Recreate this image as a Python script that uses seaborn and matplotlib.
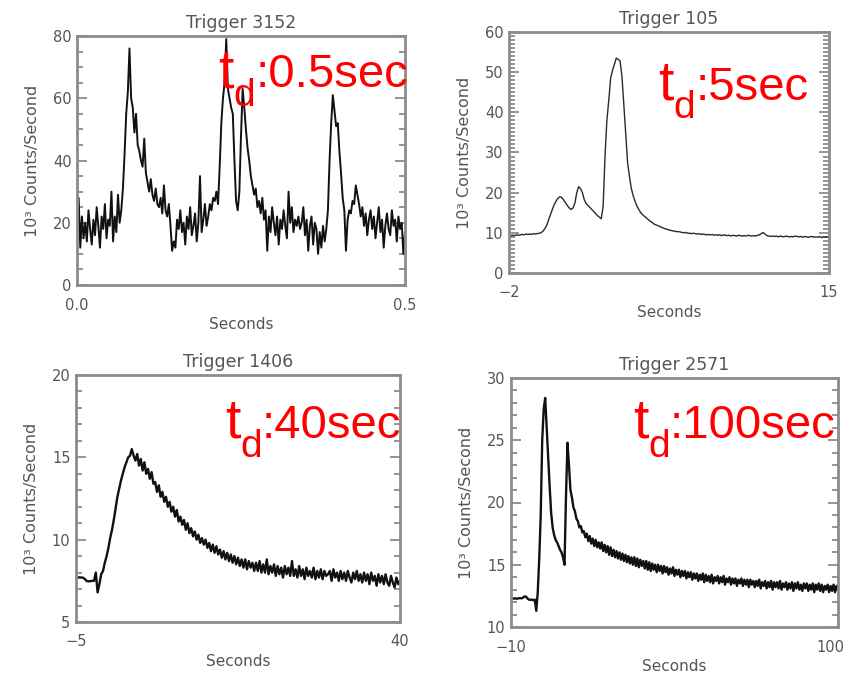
import numpy as np
import pandas as pd
import matplotlib
matplotlib.use("Agg")
import matplotlib.pyplot as plt
import matplotlib.transforms as mtransforms
import seaborn as sns
from matplotlib.ticker import MultipleLocator

# ---------------- data ----------------
titles = ["Trigger 3152", "Trigger 105", "Trigger 1406", "Trigger 2571"]
durations = ["0.5sec", "5sec", "40sec", "100sec"]
x_ranges = [(0.0, 0.5), (-2.0, 15.0), (-5.0, 40.0), (-10.0, 100.0)]
x_ticklabels = [["0.0", "0.5"], ["\u22122", "15"], ["\u22125", "40"], ["\u221210", "100"]]
y_ranges = [(0, 80), (0, 60), (5, 20), (10, 30)]
y_major = [20, 10, 5, 5]
y_minor = [5, 1, 1, 1]

# Trigger 3152: 0 .. 0.5 s, 201 samples
rate_3152 = [
    17, 28, 12, 22, 15, 20, 14, 24, 18, 13,
    21, 16, 25, 19, 12, 22, 18, 26, 15, 21,
    19, 30, 14, 22, 17, 29, 20,
    24, 31, 42, 55, 62, 76, 60, 57, 49, 55, 45, 43, 40,
    38, 47, 36, 33, 30, 34, 29, 27, 31, 26,
    25, 28, 23, 32, 24, 22, 26, 19, 11, 14,
    12, 21, 18, 24, 17, 20, 13, 22, 18, 25,
    16, 19, 23, 14, 20, 35, 17, 21, 26, 19,
    22, 26, 24, 28, 27, 30, 26, 38, 52, 60,
    65, 79, 63, 60, 57, 55, 40, 27, 24, 30,
    48, 63, 57, 50, 44, 40, 35, 32, 29, 31,
    25, 27, 23, 28, 21, 24, 11, 22, 17, 25,
    20, 16, 22, 13, 21, 18, 24, 19, 15, 30,
    20, 25, 17, 21, 19, 22, 18, 20, 25, 16,
    21, 11, 19, 22, 13, 20, 18, 10, 17, 12,
    19, 14, 18, 24, 40, 52, 61, 56, 51, 52,
    43, 36, 28, 24, 11, 21, 24, 23, 27, 26,
    32, 29, 26, 22, 25, 19, 23, 16, 21, 24,
    18, 22, 15, 20, 25, 17, 21, 12, 19, 23,
    18, 16, 24, 19, 21, 14, 22, 18, 20, 10, 17,
]

# Trigger 105: -2 .. 15 s, 171 samples
rate_105 = [
    9.2, 9.3, 9.4, 9.3, 9.5, 9.4, 9.5, 9.6, 9.5, 9.7,
    9.6, 9.7, 9.6, 9.8, 9.7, 9.8, 9.9, 10.0, 10.4, 11.0,
    11.8, 13.2, 14.5, 15.8, 17.0, 17.9, 18.6, 19.0, 18.8, 18.2,
    17.5, 16.8, 16.2, 15.8, 16.2, 17.4, 20.0, 21.5, 21.0, 20.0,
    18.2, 17.3, 16.8, 16.3, 15.8, 15.3, 14.8, 14.3, 13.9, 13.5,
    16.5, 29.0, 38.0, 43.0, 48.5, 50.5, 52.0, 53.5, 53.2, 52.8,
    49.0, 42.0, 34.8, 27.5, 24.0, 21.0, 19.2, 17.8, 16.6, 15.8,
    15.0, 14.5, 14.1, 13.7, 13.3, 12.9, 12.6, 12.2, 12.0, 11.8,
    11.6, 11.4, 11.2, 11.0, 10.9, 10.7, 10.6, 10.5, 10.4, 10.3,
    10.3, 10.2, 10.1, 10.0, 10.1, 9.9, 9.9, 9.8, 9.9, 9.8,
    9.7, 9.8, 9.6, 9.7, 9.6, 9.5, 9.6, 9.5, 9.6, 9.4,
    9.5, 9.4, 9.5, 9.3, 9.5, 9.4, 9.3, 9.4, 9.2, 9.4,
    9.3, 9.2, 9.4, 9.3, 9.2, 9.3, 9.2, 9.4, 9.3, 9.2,
    9.3, 9.2, 9.4, 9.5, 9.8, 10.1, 9.7, 9.3, 9.2, 9.1,
    9.2, 9.1, 9.2, 9.0, 9.2, 9.1, 9.0, 9.2, 9.1, 9.0,
    9.1, 9.0, 9.2, 9.1, 9.0, 9.1, 8.9, 9.1, 9.0, 8.9,
    9.0, 9.1, 8.9, 9.0, 8.9, 9.1, 8.8, 9.0, 8.9, 9.0, 8.9,
]

# Trigger 1406: -5 .. 40 s, 181 samples
rate_1406 = [
    7.7, 7.7, 7.71, 7.7, 7.69, 7.6, 7.48, 7.47, 7.48, 7.5,
    7.5, 8.0, 6.8, 7.3, 7.9, 8.1, 8.6, 9.0, 9.5, 10.1,
    10.6, 11.2, 11.9, 12.6, 13.1, 13.6, 14.0, 14.4, 14.7, 15.0,
    15.1, 15.5, 15.1, 14.8, 15.2, 14.5, 14.9, 14.2, 14.7, 14.0,
    14.3, 13.7, 14.1, 13.4, 13.5, 12.9, 13.3, 12.6, 12.9, 12.3,
    12.6, 12.0, 12.3, 11.7, 12.0, 11.4, 11.8, 11.1, 11.4, 10.9,
    11.2, 10.6, 11.0, 10.4, 10.7, 10.2, 10.5, 10.0, 10.3, 9.8,
    10.1, 9.7, 10.0, 9.5, 9.8, 9.3, 9.7, 9.2, 9.6, 9.1,
    9.4, 8.9, 9.3, 8.8, 9.2, 8.7, 9.1, 8.6, 9.0, 8.5,
    8.9, 8.4, 8.8, 8.3, 8.8, 8.2, 8.7, 8.3, 8.6, 8.1,
    8.6, 8.1, 8.7, 8.0, 8.5, 8.0, 8.8, 7.9, 8.4, 8.0,
    8.5, 7.8, 8.4, 7.9, 8.3, 7.7, 8.4, 7.9, 8.3, 7.8,
    8.7, 7.8, 8.2, 7.7, 8.4, 7.8, 8.2, 7.6, 8.3, 7.8,
    8.1, 7.7, 8.3, 7.6, 8.1, 7.7, 8.2, 7.6, 8.1, 7.8,
    7.9, 8.1, 7.5, 8.2, 7.7, 8.0, 7.5, 8.1, 7.6, 8.0,
    7.5, 8.1, 7.7, 7.4, 8.0, 7.6, 8.1, 7.5, 7.9, 7.4,
    8.0, 7.5, 7.9, 7.3, 8.0, 7.5, 7.8, 7.2, 7.9, 7.4,
    7.8, 7.3, 7.9, 7.4, 7.2, 7.8, 7.4, 7.1, 7.7, 7.3, 7.5,
]

# Trigger 2571: -10 .. 100 s, 221 samples
rate_2571 = [
    12.25, 12.3, 12.28, 12.3, 12.27, 12.3, 12.32, 12.3, 12.35, 12.45,
    12.45, 12.3, 12.2, 12.18, 12.2, 12.15, 12.2, 11.3, 12.8, 15.5,
    19.0, 25.0, 27.5, 28.4, 26.0, 23.5, 21.3, 19.2, 18.0, 17.4,
    17.0, 16.8, 16.5, 16.2, 16.0, 15.6, 15.0, 20.5, 24.8, 23.0,
    21.0, 20.4, 19.6, 19.3, 18.7, 18.5, 18.0, 18.1, 17.6, 17.7,
    17.2, 17.5, 16.9, 17.3, 16.7, 17.1, 16.5, 17.0, 16.4, 16.8,
    16.3, 16.8, 16.1, 16.6, 16.0, 16.5, 15.8, 16.4, 15.7, 16.2,
    15.6, 16.1, 15.5, 16.0, 15.4, 15.9, 15.3, 15.8, 15.2, 15.7,
    15.1, 15.6, 15.0, 15.6, 14.9, 15.5, 14.8, 15.4, 14.9, 15.3,
    14.7, 15.3, 14.6, 15.2, 14.5, 15.1, 14.6, 15.0, 14.4, 15.0,
    14.5, 14.9, 14.3, 14.9, 14.4, 14.8, 14.2, 14.7, 14.3, 14.8,
    14.1, 14.6, 14.2, 14.6, 14.0, 14.5, 14.1, 14.5, 13.9, 14.4,
    14.0, 14.4, 13.8, 14.3, 13.9, 14.3, 13.7, 14.2, 13.8, 14.3,
    13.6, 14.2, 13.7, 14.1, 13.6, 14.2, 13.5, 14.0, 13.7, 14.1,
    13.5, 14.0, 13.6, 14.1, 13.4, 13.9, 13.6, 14.0, 13.4, 13.9,
    13.5, 13.9, 13.3, 13.8, 13.5, 13.9, 13.3, 13.8, 13.4, 13.8,
    13.2, 13.8, 13.4, 13.7, 13.2, 13.7, 13.3, 13.8, 13.1, 13.6,
    13.3, 13.7, 13.1, 13.6, 13.2, 13.7, 13.0, 13.6, 13.2, 13.6,
    13.1, 13.7, 13.0, 13.5, 13.2, 13.6, 13.0, 13.5, 13.1, 13.6,
    12.9, 13.5, 13.1, 13.6, 13.0, 13.4, 12.9, 13.5, 13.1, 13.5,
    12.9, 13.4, 13.0, 13.5, 12.8, 13.4, 13.0, 13.5, 12.9, 13.4,
    12.8, 13.3, 13.0, 13.4, 12.8, 13.3, 12.9, 13.4, 12.8, 13.3, 13.0,
]

rates = [rate_3152, rate_105, rate_1406, rate_2571]

# ---------------- styling / layout ----------------
sns.set_theme(style="white")
plt.rcParams["font.family"] = ["DejaVu Sans"]

W, H = 850, 675
fig = plt.figure(figsize=(W / 100, H / 100), dpi=100)
fig.patch.set_facecolor("white")

# axes boxes in pixels: left, top, right, bottom
boxes = [(77, 36, 405, 285), (509, 32, 829, 273),
         (76, 375, 400, 622), (511, 378, 838, 627)]
line_colors = ["#111111", "#2a2a2a", "#111111", "#111111"]
line_widths = [1.4, 1.0, 1.7, 1.7]
txt_col = "#555555"
box_col = "#8c8c8c"

for k in range(4):
    l, t, r, b = boxes[k]
    ax = fig.add_axes([l / W, 1 - b / H, (r - l) / W, (b - t) / H])
    x0, x1 = x_ranges[k]
    n = len(rates[k])
    df = pd.DataFrame({"Seconds": np.linspace(x0, x1, n), "Rate": rates[k]})
    sns.lineplot(data=df, x="Seconds", y="Rate", ax=ax, color=line_colors[k],
                 linewidth=line_widths[k], estimator=None)
    ax.set_xlim(x0, x1)
    ax.set_ylim(*y_ranges[k])
    ax.set_xticks([x0, x1])
    ax.set_xticklabels(x_ticklabels[k])
    ax.yaxis.set_major_locator(MultipleLocator(y_major[k]))
    ax.yaxis.set_minor_locator(MultipleLocator(y_minor[k]))
    ax.tick_params(axis="x", length=0, pad=9, labelsize=10.5, labelcolor=txt_col)
    ax.tick_params(axis="y", which="both", direction="in", left=True, right=True,
                   color="#777777", width=1.1, labelsize=10.5, labelcolor=txt_col, pad=4)
    ax.tick_params(axis="y", which="major", length=7)
    ax.tick_params(axis="y", which="minor", length=4)
    for s in ax.spines.values():
        s.set_color(box_col)
        s.set_linewidth(2)
        s.set_visible(True)
    ax.set_xlabel("Seconds", fontsize=11, color=txt_col, labelpad=3)
    ax.set_ylabel("10\u00b3 Counts/Second", fontsize=11.5, color=txt_col, labelpad=9)
    ax.set_title(titles[k], fontsize=12.5, color=txt_col, pad=6)
    if k == 3:
        # keep the right-hand "100" inside the figure edge
        lab = ax.get_xticklabels()[-1]
        lab.set_transform(lab.get_transform() +
                          mtransforms.ScaledTranslation(-0.08, 0, fig.dpi_scale_trans))

# ---------------- red duration labels ----------------
red_pos = [(218, 87, 106), (658, 100, 118), (225, 438, 457), (633, 438, 457)]
renderer = fig.canvas.get_renderer()
red_font = "Liberation Sans"
for k in range(4):
    x, base, sub = red_pos[k]
    t1 = fig.text(x / W, 1 - base / H, "t", fontsize=40, color="#ff0000",
                  family=red_font, va="baseline", ha="left")
    ext = t1.get_window_extent(renderer=renderer)
    t2 = fig.text(ext.x1 / W, 1 - sub / H, "d", fontsize=28, color="#ff0000",
                  family=red_font, va="baseline", ha="left")
    ext2 = t2.get_window_extent(renderer=renderer)
    fig.text(ext2.x1 / W, 1 - base / H, ":" + durations[k], fontsize=34,
             color="#ff0000", family=red_font, va="baseline", ha="left")

fig.savefig("out.png", dpi=100, facecolor="white")
